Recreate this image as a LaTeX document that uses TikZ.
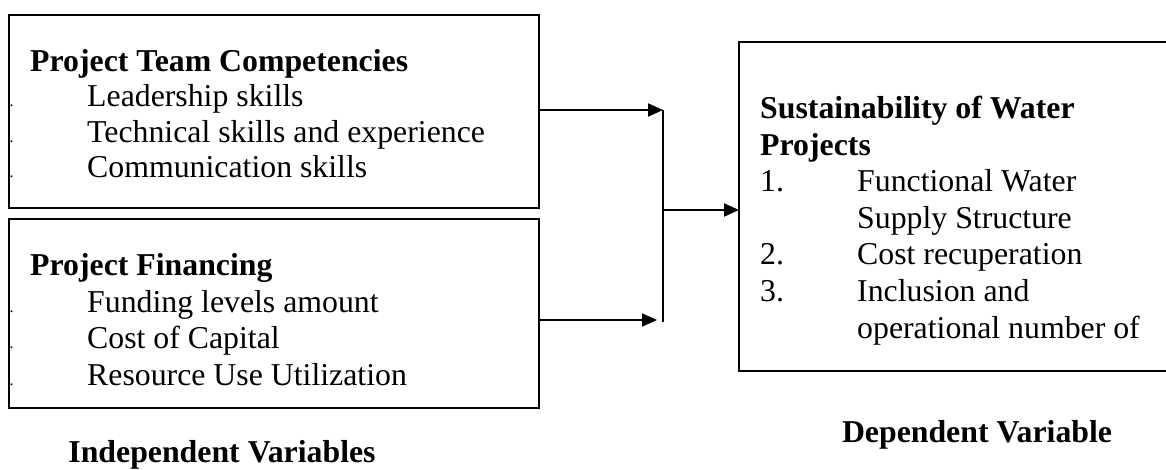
\documentclass[tikz,border=0pt]{standalone}
\usepackage{fontspec}
\setmainfont{Liberation Serif}
\usetikzlibrary{arrows.meta}
\begin{document}
\begin{tikzpicture}[x=1pt,y=-1pt,
  box/.style={draw,line width=2pt,rectangle,inner sep=0pt,outer sep=0pt,anchor=north west},
  txt/.style={anchor=base west,inner sep=0pt,font=\fontsize{31.8}{36}\selectfont},
  hd/.style={anchor=base west,inner sep=0pt,font=\fontsize{31.8}{36}\selectfont\bfseries},
  dot/.style={anchor=base west,inner sep=0pt,font=\fontsize{16}{18}\selectfont},
  conn/.style={line width=2pt},
  arr/.style={conn,-{Triangle[length=15pt,width=13pt]}}]
\useasboundingbox (0,0) rectangle (1166,470);
\clip (0,0) rectangle (1166,470);
% boxes
\node[box,minimum width=530pt,minimum height=193pt] (b1) at (9,15) {};
\node[box,minimum width=530pt,minimum height=189pt] (b2) at (9,219) {};
\node[box,minimum width=470pt,minimum height=329pt] (b3) at (739,42) {};
% box 1 text
\node[hd] (h1) at (30,72) {Project Team Competencies};
\node[txt] (i11) at (87,107) {Leadership skills};
\node[txt] (i12) at (87,142.5) {Technical skills and experience};
\node[txt] (i13) at (87,178) {Communication skills};
\node[dot] (d11) at (9.5,107) {.};
\node[dot] (d12) at (9.5,142.5) {.};
\node[dot] (d13) at (9.5,178) {.};
% box 2 text
\node[hd] (h2) at (30,275) {Project Financing};
\node[txt] (i21) at (87,312) {Funding levels amount};
\node[txt] (i22) at (87,348) {Cost of Capital};
\node[txt] (i23) at (87,385) {Resource Use Utilization};
\node[dot] (d21) at (9.5,312) {.};
\node[dot] (d22) at (9.5,348) {.};
\node[dot] (d23) at (9.5,385) {.};
% right box text
\node[hd] (h3a) at (760,119) {Sustainability of Water};
\node[hd] (h3b) at (760,155.5) {Projects};
\node[txt] (n1) at (760,192) {1.};
\node[txt] (r1a) at (857,192) {Functional Water};
\node[txt] (r1b) at (857,228.5) {Supply Structure};
\node[txt] (n2) at (760,265) {2.};
\node[txt] (r2) at (857,265) {Cost recuperation};
\node[txt] (n3) at (760,301.5) {3.};
\node[txt] (r3a) at (857,301.5) {Inclusion and};
\node[txt] (r3b) at (857,338) {operational number of};
% captions
\node[hd,anchor=base] (c1) at (222,462) {Independent Variables};
\node[hd,anchor=base] (c2) at (977,442) {Dependent Variable};
% connectors
\coordinate (vt) at (663,110);
\coordinate (vb) at (663,322);
\coordinate (vm) at (663,210);
\coordinate (a2) at (657,320);
\draw[conn] (vt) -- (vb);
\draw[arr] (b1.east |- vt) -- (vt);
\draw[arr] (b2.east |- a2) -- (a2);
\draw[arr] (vm) -- (vm -| b3.west);
\end{tikzpicture}
\end{document}
